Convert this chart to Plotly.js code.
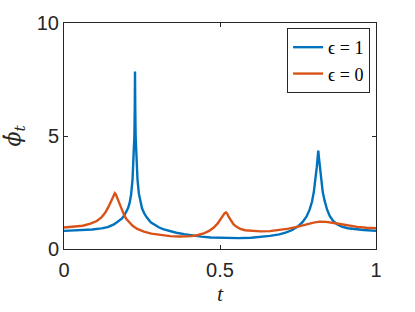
<!DOCTYPE html>
<html>
<head>
<meta charset="utf-8">
<script src="https://cdn.plot.ly/plotly-3.0.1.min.js"></script>
<style>html,body{margin:0;padding:0;background:#fff;}#chart{width:415px;height:312px;}</style>
</head>
<body>
<div id="chart"></div>
<script>
// epsilon = 1 (blue)
const tBlue = [0, 0.03, 0.06, 0.09, 0.12, 0.14, 0.16, 0.175, 0.185, 0.193, 0.2, 0.205, 0.21, 0.215, 0.2196, 0.2236, 0.2256, 0.2268, 0.2276, 0.2284, 0.2296, 0.2316, 0.2356, 0.24, 0.245, 0.25, 0.257, 0.265, 0.278, 0.29, 0.305, 0.32, 0.34, 0.36, 0.385, 0.41, 0.44, 0.47, 0.5, 0.53, 0.56, 0.6, 0.63, 0.66, 0.69, 0.71, 0.73, 0.75, 0.765, 0.777, 0.787, 0.795, 0.801, 0.806, 0.81, 0.813, 0.815, 0.817, 0.82, 0.824, 0.829, 0.835, 0.843, 0.852, 0.862, 0.875, 0.89, 0.91, 0.93, 0.96, 1.0];
const phiBlue = [0.80, 0.81, 0.83, 0.86, 0.91, 0.97, 1.09, 1.22, 1.34, 1.48, 1.65, 1.80, 2.02, 2.40, 3.06, 4.0, 5.0, 6.2, 7.85, 6.2, 5.0, 4.0, 3.06, 2.45, 2.05, 1.80, 1.58, 1.40, 1.18, 1.06, 0.95, 0.87, 0.79, 0.72, 0.66, 0.60, 0.55, 0.51, 0.49, 0.48, 0.48, 0.50, 0.53, 0.58, 0.65, 0.72, 0.83, 1.00, 1.20, 1.43, 1.73, 2.1, 2.55, 3.05, 3.6, 4.05, 4.35, 4.05, 3.6, 3.05, 2.55, 2.15, 1.75, 1.45, 1.25, 1.10, 0.99, 0.92, 0.88, 0.84, 0.80];
// epsilon = 0 (orange)
const tOrange = [0, 0.03, 0.06, 0.085, 0.105, 0.12, 0.132, 0.142, 0.15, 0.156, 0.16, 0.163, 0.166, 0.17, 0.175, 0.18, 0.186, 0.193, 0.2, 0.21, 0.22, 0.235, 0.256, 0.28, 0.31, 0.34, 0.37, 0.39, 0.41, 0.43, 0.45, 0.465, 0.48, 0.492, 0.502, 0.51, 0.515, 0.519, 0.523, 0.528, 0.535, 0.543, 0.553, 0.565, 0.58, 0.6, 0.63, 0.66, 0.69, 0.72, 0.75, 0.78, 0.8, 0.82, 0.84, 0.87, 0.9, 0.94, 0.97, 1.0];
const phiOrange = [0.95, 0.98, 1.03, 1.12, 1.24, 1.40, 1.60, 1.85, 2.10, 2.30, 2.42, 2.47, 2.42, 2.28, 2.08, 1.88, 1.68, 1.49, 1.33, 1.16, 1.03, 0.89, 0.77, 0.68, 0.61, 0.57, 0.55, 0.55, 0.57, 0.62, 0.70, 0.80, 0.95, 1.12, 1.32, 1.50, 1.59, 1.62, 1.56, 1.42, 1.25, 1.10, 0.98, 0.89, 0.83, 0.80, 0.78, 0.79, 0.83, 0.90, 0.99, 1.10, 1.17, 1.21, 1.20, 1.14, 1.06, 0.98, 0.94, 0.92];

const names = ['\u03F5 = 1', '\u03F5 = 0'];
const xTicks = [0, 0.5, 1];
const xTickText = ['0', '0.5', '1'];
const yTicks = [0, 5, 10];
const yTickText = ['0', '5', '10'];

const axisColor = '#262626';
const tickFont = {family: 'Liberation Sans, Arial, sans-serif', size: 20, color: axisColor};
const serif = 'DejaVu Serif, Liberation Serif, serif';

const data = [
  {x: tBlue, y: phiBlue, type: 'scatter', mode: 'lines', name: names[0],
   line: {color: '#0072BD', width: 2.4}},
  {x: tOrange, y: phiOrange, type: 'scatter', mode: 'lines', name: names[1],
   line: {color: '#D95319', width: 2.4}}
];

const layout = {
  width: 415, height: 312,
  margin: {l: 64, r: 39, t: 23, b: 63},
  paper_bgcolor: '#fff', plot_bgcolor: '#fff',
  showlegend: true,
  legend: {x: 0.981, y: 0.978, xanchor: 'right', yanchor: 'top',
    bgcolor: '#fff', bordercolor: axisColor, borderwidth: 1,
    font: {family: 'Liberation Serif, serif', size: 18, color: '#000'},
    itemwidth: 30},
  xaxis: {range: [0, 1], tickvals: xTicks, ticktext: xTickText,
    ticks: 'inside', ticklen: 4, tickcolor: axisColor, mirror: 'ticks',
    showline: true, linecolor: axisColor, linewidth: 1, showgrid: false, zeroline: false,
    tickfont: tickFont, ticklabelstandoff: 3,
    title: {text: '<i>t</i>', font: {family: 'Liberation Serif, serif', size: 22, color: axisColor}, standoff: 5}},
  yaxis: {range: [0, 10], tickvals: yTicks, ticktext: yTickText,
    ticks: 'inside', ticklen: 4, tickcolor: axisColor, mirror: 'ticks',
    showline: true, linecolor: axisColor, linewidth: 1, showgrid: false, zeroline: false,
    tickfont: tickFont,
    title: {text: '<i>\u03D5\u0307<sub>t</sub></i>', font: {family: serif, size: 22, color: axisColor}, standoff: 12}}
};

Plotly.newPlot('chart', data, layout, {displayModeBar: false, staticPlot: true});
</script>
</body>
</html>
